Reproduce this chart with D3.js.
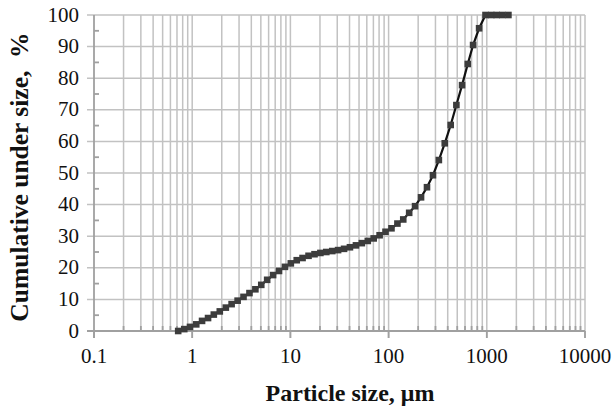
<!DOCTYPE html>
<html>
<head>
<meta charset="utf-8">
<script src="https://cdn.jsdelivr.net/npm/d3@7"></script>
<style>
  body { margin: 0; background: #fff; }
  text { font-family: "Liberation Serif", "Times New Roman", serif; }
</style>
</head>
<body>
<svg id="chart" width="613" height="407"></svg>
<script>
// particle size (um) and cumulative undersize (%)
var sizes = [0.72, 0.83, 0.95, 1.1, 1.26, 1.45, 1.66, 1.91, 2.2, 2.52,
             2.9, 3.33, 3.83, 4.4, 5.05, 5.8, 6.67, 7.66, 8.8, 10.1,
             11.6, 13.3, 15.3, 17.6, 20.2, 23.2, 26.7, 30.6, 35.2, 40.4,
             46.5, 53.4, 61.4, 70.5, 81, 93, 107, 123, 141, 162,
             186, 214, 246, 283, 325, 373, 429, 490, 560, 640,
             725, 835, 970, 1110, 1260, 1440, 1660];
var undersize = [0, 0.6, 1.3, 2.1, 3.2, 4.1, 5.2, 6.2, 7.4, 8.5,
                 9.6, 10.8, 12.0, 13.2, 14.6, 16.2, 17.7, 19.0, 20.3, 21.4,
                 22.4, 23.1, 23.8, 24.3, 24.7, 25.0, 25.3, 25.6, 26.0, 26.5,
                 27.1, 27.8, 28.5, 29.3, 30.3, 31.4, 32.5, 34.0, 35.3, 37.4,
                 39.5, 42.3, 45.5, 49.3, 54.1, 59.4, 65.2, 71.5, 77.8, 84.5,
                 90.5, 95.8, 100, 100, 100, 100, 100];

var xMajor = [0.1, 1, 10, 100, 1000, 10000];
var yMajor = [0, 10, 20, 30, 40, 50, 60, 70, 80, 90, 100];

var svg = d3.select("#chart");
var pLeft = 94, pRight = 585, pTop = 15, pBottom = 331;

var sx = d3.scaleLog().domain([0.1, 10000]).range([pLeft, pRight]);
var sy = d3.scaleLinear().domain([0, 100]).range([pBottom, pTop]);

// minor positions 2..9 in each decade
var xMinor = [];
xMajor.slice(0, -1).forEach(function(d) {
    for (var k = 2; k <= 9; k++) xMinor.push(d * k);
});
var yMinor = yMajor.slice(0, -1).map(d => d + 5);

var grid = svg.append("g").attr("stroke", "#c2c2c2").attr("stroke-width", 1.5);

grid.selectAll(".vmin").data(xMinor).enter().append("line")
    .attr("x1", d => sx(d)).attr("x2", d => sx(d))
    .attr("y1", pTop).attr("y2", pBottom);
grid.selectAll(".vmaj").data(xMajor.slice(1)).enter().append("line")
    .attr("x1", d => sx(d)).attr("x2", d => sx(d))
    .attr("y1", pTop).attr("y2", pBottom + 7);
grid.selectAll(".h").data(yMajor.slice(1)).enter().append("line")
    .attr("x1", pLeft - 7).attr("x2", pRight)
    .attr("y1", d => sy(d)).attr("y2", d => sy(d));

// axes
var ax = svg.append("g").attr("stroke", "#a0a0a0").attr("stroke-width", 1.8);
ax.append("line").attr("x1", pLeft).attr("x2", pLeft).attr("y1", pTop).attr("y2", pBottom + 7);
ax.append("line").attr("x1", pLeft - 7).attr("x2", pRight).attr("y1", pBottom).attr("y2", pBottom);
ax.selectAll(".ymin").data(yMinor).enter().append("line")
    .attr("x1", pLeft).attr("x2", pLeft + 5)
    .attr("y1", d => sy(d)).attr("y2", d => sy(d));
ax.selectAll(".xmin").data(xMinor).enter().append("line")
    .attr("x1", d => sx(d)).attr("x2", d => sx(d))
    .attr("y1", pBottom).attr("y2", pBottom - 5);
ax.selectAll(".xmaj").data(xMajor).enter().append("line")
    .attr("x1", d => sx(d)).attr("x2", d => sx(d))
    .attr("y1", pBottom).attr("y2", pBottom + 7);

// tick labels
svg.append("g").selectAll("text").data(yMajor).enter().append("text")
    .attr("x", pLeft - 15).attr("y", d => sy(d) + 6.5)
    .attr("text-anchor", "end").attr("font-size", 21).attr("fill", "#111")
    .text(d => d);
svg.append("g").selectAll("text").data(xMajor).enter().append("text")
    .attr("x", d => sx(d)).attr("y", 363)
    .attr("text-anchor", "middle").attr("font-size", 21).attr("fill", "#111")
    .text(d => d3.format("")(d));

// axis titles
svg.append("text").attr("x", 350).attr("y", 401)
    .attr("text-anchor", "middle").attr("font-size", 24).attr("font-weight", "bold")
    .attr("fill", "#111").text("Particle size, \u03bcm");
svg.append("text").attr("transform", "translate(28,177) rotate(-90)")
    .attr("text-anchor", "middle").attr("font-size", 25.5).attr("font-weight", "bold")
    .attr("fill", "#111").text("Cumulative under size,  %")
    .attr("xml:space", "preserve").style("white-space", "pre");

// curve
var line = d3.line().x((d, i) => sx(sizes[i])).y(d => sy(d));
svg.append("path").datum(undersize).attr("d", line)
    .attr("fill", "none").attr("stroke", "#111").attr("stroke-width", 2.2);

svg.append("g").selectAll("rect").data(undersize).enter().append("rect")
    .attr("x", (d, i) => sx(sizes[i]) - 3.3).attr("y", d => sy(d) - 3.3)
    .attr("width", 6.6).attr("height", 6.6)
    .attr("fill", "#3c3c3c");
</script>
</body>
</html>
